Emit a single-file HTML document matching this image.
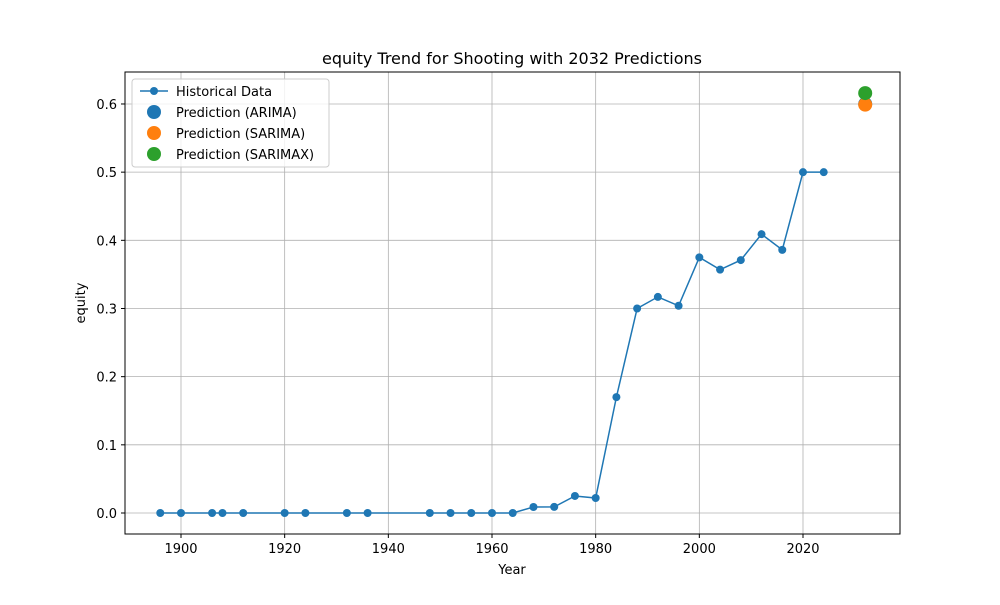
<!DOCTYPE html>
<html><head><meta charset="utf-8"><style>
body{margin:0;background:#fff;font-family:"Liberation Sans","DejaVu Sans",sans-serif;}
svg text{font-family:"DejaVu Sans","Liberation Sans",sans-serif;}
</style></head><body>
<svg id="chart" width="1000" height="600" xmlns="http://www.w3.org/2000/svg">
<rect width="1000" height="600" fill="#fff"/>
<g id="grid"></g>
<g id="marks"></g>
<rect x="125" y="72" width="775" height="462" fill="none" stroke="#000" stroke-width="1"/>
<g id="ticks"></g>
<text x="512" y="64" text-anchor="middle" font-size="16">equity Trend for Shooting with 2032 Predictions</text>
<text x="512" y="574" text-anchor="middle" font-size="13">Year</text>
<text transform="translate(85,303) rotate(-90)" text-anchor="middle" font-size="13">equity</text>
<g>
<rect x="132" y="79" width="197" height="88" fill="#fff" fill-opacity="0.8" stroke="#ccc" rx="3"/>
<g><line x1="140" y1="91" x2="168" y2="91" stroke="#1f77b4" stroke-width="1.5"/><circle cx="154" cy="91" r="4" fill="#1f77b4"/><text x="176" y="96" font-size="13">Historical Data</text></g>
<g><circle cx="154" cy="112" r="7" fill="#1f77b4"/><text x="176" y="117" font-size="13">Prediction (ARIMA)</text></g>
<g><circle cx="154" cy="133" r="7" fill="#ff7f0e"/><text x="176" y="138" font-size="13">Prediction (SARIMA)</text></g>
<g><circle cx="154" cy="154" r="7" fill="#2ca02c"/><text x="176" y="159" font-size="13">Prediction (SARIMAX)</text></g>
</g>
</svg>
<script>
const years=[1896,1900,1906,1908,1912,1920,1924,1932,1936,1948,1952,1956,1960,1964,1968,1972,1976,1980,1984,1988,1992,1996,2000,2004,2008,2012,2016,2020,2024];
const values=[0,0,0,0,0,0,0,0,0,0,0,0,0,0,0.0088,0.009,0.025,0.022,0.17,0.30,0.317,0.304,0.375,0.357,0.371,0.409,0.386,0.5,0.5];
const predYear=2032;
const predArima=[0.600];
const predSarima=[0.599];
const predSarimax=[0.616];
const xTicks=[1900,1920,1940,1960,1980,2000,2020];
const yTicks=[0,0.1,0.2,0.3,0.4,0.5,0.6];
const NS="http://www.w3.org/2000/svg";
function xs(v){return 181+(v-1900)*622/120;}
function ys(v){return 513-v*681.7;}
function mk(t,a,p){const e=document.createElementNS(NS,t);for(const k in a)e.setAttribute(k,a[k]);p.appendChild(e);return e;}
const grid=document.getElementById('grid'),ticks=document.getElementById('ticks'),marks=document.getElementById('marks');
xTicks.forEach(t=>{const x=xs(t);
const g=mk('line',{x1:x,x2:x,y1:72,y2:534,stroke:'#b0b0b0','stroke-width':0.8},grid);


mk('line',{x1:x,x2:x,y1:534,y2:538,stroke:'#000'},ticks);
const l=mk('text',{x:x,y:553,'text-anchor':'middle','font-size':13},ticks);l.textContent=t;

});
yTicks.forEach(t=>{const y=ys(t);
const g=mk('line',{x1:125,x2:900,y1:y,y2:y,stroke:'#b0b0b0','stroke-width':0.8},grid);


mk('line',{x1:121,x2:125,y1:y,y2:y,stroke:'#000'},ticks);
const l=mk('text',{x:117,y:y+5,'text-anchor':'end','font-size':13},ticks);l.textContent=t.toFixed(1);

});
const line=mk('polyline',{points:years.map((y,i)=>xs(y)+','+ys(values[i])).join(' '),fill:'none',stroke:'#1f77b4','stroke-width':1.5},marks);


years.forEach((y,i)=>{const c=mk('circle',{cx:xs(y),cy:ys(values[i]),r:4,fill:'#1f77b4'},marks);

});
[[predArima,'#1f77b4','prediction-arima'],[predSarima,'#ff7f0e','prediction-sarima'],[predSarimax,'#2ca02c','prediction-sarimax']].forEach(([arr,col,n])=>{
arr.forEach(v=>{const c=mk('circle',{cx:xs(predYear),cy:ys(v),r:7,fill:col},marks);

});});
</script>
</body></html>
